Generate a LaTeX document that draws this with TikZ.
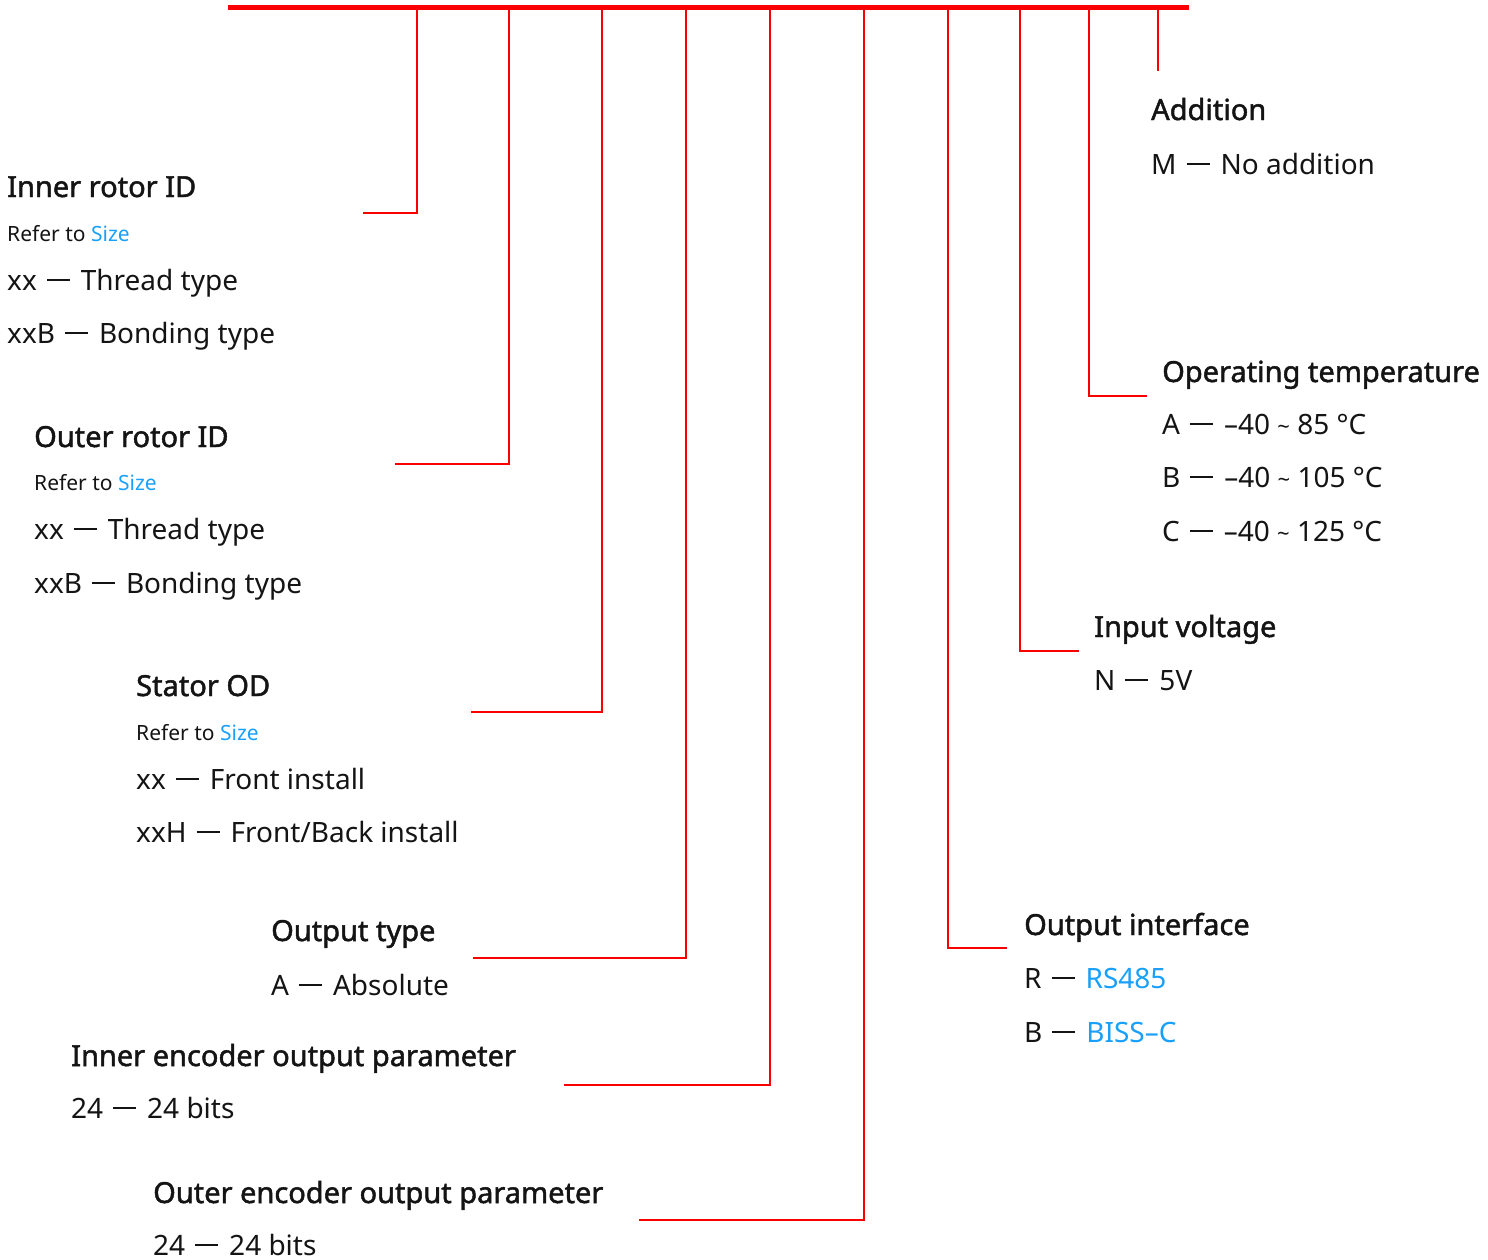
\documentclass[tikz,border=0pt]{standalone}
\usepackage{fontspec}
\setmainfont{Noto Sans}
\newfontfamily\ttlfont{Noto Sans}[FakeBold=1.6]
\definecolor{lred}{RGB}{250,0,0}
\definecolor{lblue}{RGB}{24,160,250}
\definecolor{ltext}{RGB}{20,20,20}
\tikzset{
  ttl/.style={anchor=base west, inner sep=0pt, text=ltext, font=\ttlfont\fontsize{29}{34}\selectfont},
  body/.style={anchor=base west, inner sep=0pt, text=ltext, font=\fontsize{28}{34}\selectfont},
  small/.style={anchor=base west, inner sep=0pt, text=ltext, font=\fontsize{21}{24}\selectfont},
  bar/.style={draw=lred, line width=5pt},
  lead/.style={draw=lred, line width=2pt}
}
\newcommand{\lk}[1]{\textcolor{lblue}{#1}}
\newcommand{\tld}{{\fontsize{22}{22}\selectfont\char"7E}}
\newcommand{\dsh}{\hspace{10pt}\rule[9pt]{23pt}{1.8pt}\hspace{11pt}}
\begin{document}
\begin{tikzpicture}[x=1pt,y=-1pt]
\useasboundingbox (0,0) rectangle (1488,1259);
% top bar
\coordinate (bl) at (228,7);
\coordinate (br) at (1189,7);
\draw[bar] (bl) -- (br);
% tap points on the bar
\foreach \n/\x in {a/417,b/509,c/602,d/686,e/770,f/864,g/948,h/1020,i/1089,j/1158}
  \coordinate (t\n) at (\x,8);
% ends of leaders
\coordinate (ea) at (363,213);
\coordinate (eb) at (395,464);
\coordinate (ec) at (471,712);
\coordinate (ed) at (473,958);
\coordinate (ee) at (564,1085);
\coordinate (ef) at (639,1220);
\coordinate (eg) at (1007,948);
\coordinate (eh) at (1079,651);
\coordinate (ei) at (1147,396);
\coordinate (ej) at (1158,71);
\draw[lead] (ta) |- (ea);
\draw[lead] (tb) |- (eb);
\draw[lead] (tc) |- (ec);
\draw[lead] (td) |- (ed);
\draw[lead] (te) |- (ee);
\draw[lead] (tf) |- (ef);
\draw[lead] (tg) |- (eg);
\draw[lead] (th) |- (eh);
\draw[lead] (ti) |- (ei);
\draw[lead] (tj) -- (ej);
% Inner rotor ID
\node[ttl]   (irt) at (7,197) {Inner rotor ID};
\node[small] (irr) at (7,241) {Refer to \lk{Size}};
\node[body]  (ir1) at (7,290) {xx\dsh Thread type};
\node[body]  (ir2) at (7,343) {xxB\dsh Bonding type};
% Outer rotor ID
\node[ttl]   (ort) at (34,447) {Outer rotor ID};
\node[small] (orr) at (34,490) {Refer to \lk{Size}};
\node[body]  (or1) at (34,539) {xx\dsh Thread type};
\node[body]  (or2) at (34,593) {xxB\dsh Bonding type};
% Stator OD
\node[ttl]   (sot) at (136,696) {Stator OD};
\node[small] (sor) at (136,740) {Refer to \lk{Size}};
\node[body]  (so1) at (136,789) {xx\dsh Front install};
\node[body]  (so2) at (136,842) {xxH\dsh Front/Back install};
% Output type
\node[ttl]   (ott) at (271,941) {Output type};
\node[body]  (ot1) at (271,995) {A\dsh Absolute};
% Inner encoder
\node[ttl]   (iet) at (71,1066) {Inner encoder output parameter};
\node[body]  (ie1) at (71,1118) {24\dsh 24 bits};
% Outer encoder
\node[ttl]   (oet) at (153,1203) {Outer encoder output parameter};
\node[body]  (oe1) at (153,1255) {24\dsh 24 bits};
% Addition
\node[ttl]   (adt) at (1151,120) {Addition};
\node[body]  (ad1) at (1151,174) {M\dsh No addition};
% Operating temperature
\node[ttl]   (opt) at (1162,382) {Operating temperature};
\node[body]  (op1) at (1162,434) {A\dsh –40 \tld{} 85 °C};
\node[body]  (op2) at (1162,487) {B\dsh –40 \tld{} 105 °C};
\node[body]  (op3) at (1162,541) {C\dsh –40 \tld{} 125 °C};
% Input voltage
\node[ttl]   (ivt) at (1094,637) {Input voltage};
\node[body]  (iv1) at (1094,690) {N\dsh 5V};
% Output interface
\node[ttl]   (oit) at (1024,935) {Output interface};
\node[body]  (oi1) at (1024,988) {R\dsh \lk{RS485}};
\node[body]  (oi2) at (1024,1042) {B\dsh \lk{BISS–C}};
\end{tikzpicture}
\end{document}
